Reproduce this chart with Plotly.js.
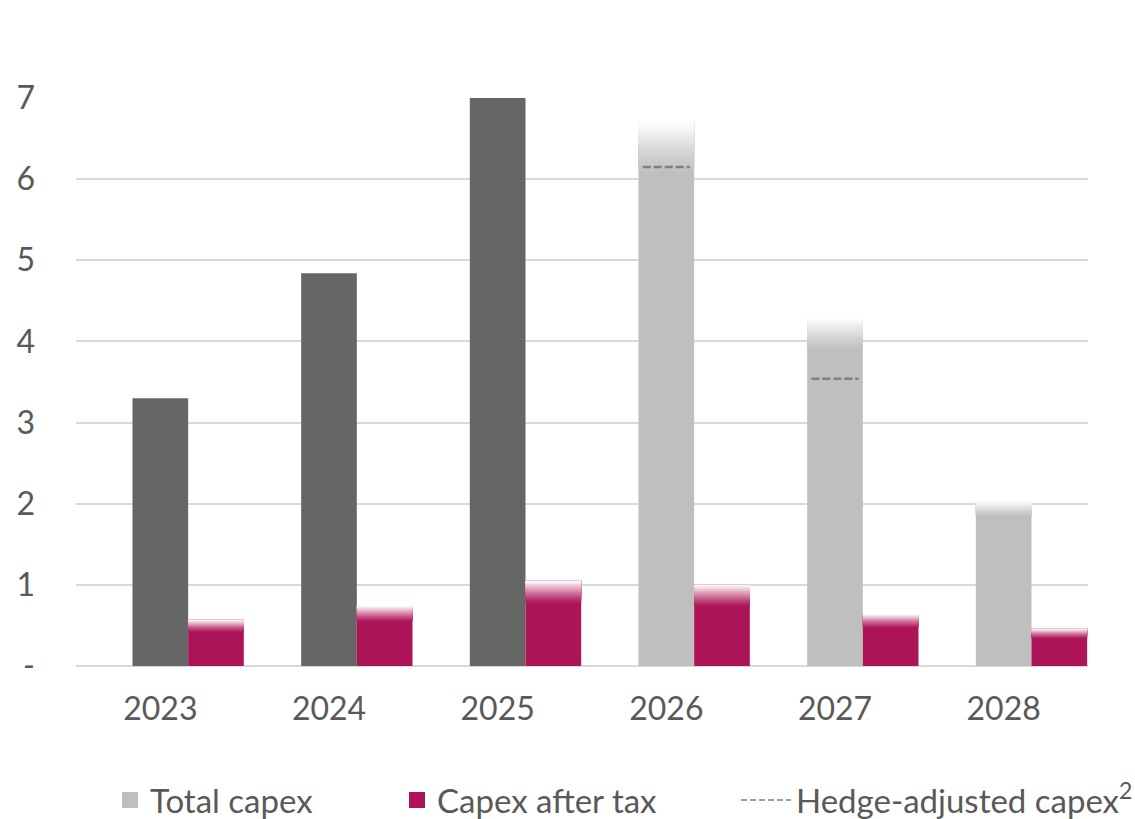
<!DOCTYPE html>
<html>
<head>
<meta charset="utf-8">
<script src="https://cdn.plot.ly/plotly-3.0.1.min.js"></script>
<style>html,body{margin:0;padding:0;background:#fff;}#chart{width:1135px;height:819px;}</style>
</head>
<body>
<div id="chart"></div>
<script>
// ---- data ----
const years = ['2023', '2024', '2025', '2026', '2027', '2028'];
const totalCapex = [3.3, 4.84, 7.0, 6.7, 4.29, 2.03];
const capexAfterTax = [0.57, 0.74, 1.05, 1.0, 0.64, 0.46];
const hedgeAdjusted = [null, null, null, 6.15, 3.54, null];
const isForecast = [false, false, false, true, true, true];
const yTickVals = [0, 1, 2, 3, 4, 5, 6, 7];
const yTickText = ['-', '1', '2', '3', '4', '5', '6', '7'];
const seriesNames = ['Total capex', 'Capex after tax', 'Hedge-adjusted capex<sup>2</sup>'];

// ---- styles ----
const DARK = [102, 102, 102], LIGHT = [191, 191, 191], MAGENTA = [173, 20, 87];
const FONT = 'Lato, "Liberation Sans", sans-serif';
const TXT = '#595959';
const BW = 0.33;
const N = 14;

function rgb(c) { return 'rgb(' + c.map(v => Math.round(v)).join(',') + ')'; }
function mix(c, t) { return c.map(v => v + (255 - v) * t); }

const xIdx = years.map((_, i) => i);
const traces = [];

function addSeries(vals, colors, fades, offset) {
  traces.push({
    type: 'bar', x: xIdx, y: vals, base: xIdx.map(() => 0),
    offset: offset, width: BW,
    marker: { color: colors.map(rgb), line: { width: 0 } },
    showlegend: false, hoverinfo: 'skip'
  });
  for (let k = 0; k < N; k++) {
    const t = Math.pow((k + 1) / N, 1.2);
    traces.push({
      type: 'bar', x: xIdx,
      y: vals.map((v, i) => fades[i] * (1 - k / N)),
      base: vals.map((v, i) => v - fades[i] + k * fades[i] / N),
      offset: offset, width: BW,
      marker: { color: colors.map(c => rgb(mix(c, t * 0.97))), line: { width: 0 } },
      showlegend: false, hoverinfo: 'skip'
    });
  }
}

addSeries(totalCapex,
  isForecast.map(f => f ? LIGHT : DARK),
  totalCapex.map((v, i) => isForecast[i] ? v * 0.09 : 0),
  -BW / 2);
addSeries(capexAfterTax,
  capexAfterTax.map(() => MAGENTA),
  capexAfterTax.map(v => v * 0.26),
  BW / 2);

// hedge-adjusted dashed segments across the total capex bar
const hx = [], hy = [];
hedgeAdjusted.forEach((v, i) => {
  if (v !== null) { hx.push(i - 0.14, i + 0.14, null); hy.push(v, v, null); }
});
traces.push({
  type: 'scatter', mode: 'lines', x: hx, y: hy,
  line: { color: '#808080', width: 2.5, dash: '8px,3px' },
  showlegend: false, hoverinfo: 'skip'
});

// legend entries (one legend each, to place them like the original)
traces.push({ type: 'scatter', mode: 'markers', x: [null], y: [null], name: seriesNames[0],
  marker: { symbol: 'square', size: 16, color: rgb(LIGHT) }, legend: 'legend' });
traces.push({ type: 'scatter', mode: 'markers', x: [null], y: [null], name: seriesNames[1],
  marker: { symbol: 'square', size: 16, color: rgb(MAGENTA) }, legend: 'legend2' });
traces.push({ type: 'scatter', mode: 'lines', x: [null], y: [null], name: seriesNames[2],
  line: { color: '#808080', width: 1.5, dash: '6px,3px' }, legend: 'legend3' });

const legBase = {
  orientation: 'h', xref: 'container', yref: 'container', xanchor: 'left',
  y: 0.023, yanchor: 'middle',
  font: { family: FONT, size: 33, color: TXT },
  itemclick: false, itemdoubleclick: false, borderwidth: 0, bgcolor: 'rgba(0,0,0,0)'
};

const layout = {
  width: 1135, height: 819,
  margin: { l: 76, r: 47, t: 98, b: 153 },
  paper_bgcolor: '#fff', plot_bgcolor: '#fff',
  barmode: 'overlay',
  font: { family: FONT, size: 32, color: TXT },
  xaxis: {
    type: 'linear', range: [-0.5, 5.5],
    tickvals: xIdx, ticktext: years,
    showgrid: false, zeroline: false, showline: false,
    ticks: '', ticklabelstandoff: 21,
    tickfont: { family: FONT, size: 32, color: TXT }
  },
  yaxis: {
    range: [0, 7], tickvals: yTickVals, ticktext: yTickText,
    showgrid: true, gridcolor: '#d9d9d9', gridwidth: 2,
    zeroline: true, zerolinecolor: '#d9d9d9', zerolinewidth: 2,
    showline: false, ticks: '', ticklabelstandoff: 40,
    tickfont: { family: FONT, size: 32, color: TXT }
  },
  showlegend: true,
  legend: Object.assign({}, legBase, { x: 110 / 1135 }),
  legend2: Object.assign({}, legBase, { x: 397 / 1135 }),
  legend3: Object.assign({}, legBase, { x: 736 / 1135, itemwidth: 50 }),
  hovermode: false
};

Plotly.newPlot('chart', traces, layout, { displayModeBar: false, staticPlot: true });
</script>
</body>
</html>
